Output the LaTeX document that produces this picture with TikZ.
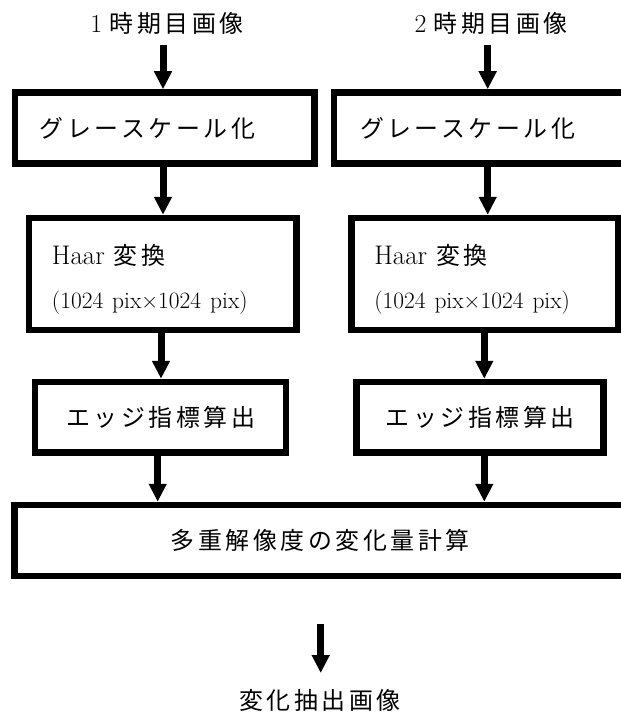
\documentclass[tikz,border=0pt]{standalone}
\usepackage{fontspec}
\newfontfamily\jp{Noto Sans CJK JP}[LetterSpace=15]
\usetikzlibrary{arrows.meta}
\tikzset{
  box/.style={draw, line width=6.5bp, inner sep=0pt, anchor=center},
  arr/.style={line width=7bp, -{Triangle[width=17bp,length=18bp]}},
  jtext/.style={font=\fontsize{24}{28}\selectfont},
  haar/.style={box, font=\fontsize{27}{44}\selectfont, minimum height=112bp, align=left, text height=21bp, text depth=40.4bp},
}
\begin{document}
\begin{tikzpicture}[x=1bp,y=-1bp]
\useasboundingbox (0,0) rectangle (621,717);
% top labels
\node[jtext] (l1) at (167,23) {{\fontsize{26}{28}\selectfont 1} {\jp 時期目画像}};
\node[jtext] (l2) at (491,23) {{\fontsize{26}{28}\selectfont 2} {\jp 時期目画像}};
% column x coordinates
\coordinate (La) at (163,45);
\coordinate (Lb) at (161,0);
\coordinate (Lc) at (157.7,0);
\coordinate (Ra) at (487.7,45);
\coordinate (Rb) at (484.3,0);
% gray boxes
\node[box, jtext, minimum width=299.7bp, minimum height=70.8bp, text width=249.7bp, align=left] (g1) at (164.85,127.9) {\jp グレースケール化};
\node[box, jtext, minimum width=292bp, minimum height=70.8bp, text width=240bp, align=left] (g2) at (480,127.9) {\jp グレースケール化};
% Haar boxes
\node[haar, minimum width=267.5bp, text width=221.5bp] (h1) at (162.75,274)
  {Haar {\fontsize{24}{44}\selectfont\jp 変換}\\{\fontsize{23.5}{44}\selectfont (1024 pix×1024 pix)}};
\node[haar, minimum width=266.7bp, text width=220.7bp] (h2) at (484.65,274)
  {Haar {\fontsize{24}{44}\selectfont\jp 変換}\\{\fontsize{23.5}{44}\selectfont (1024 pix×1024 pix)}};
% edge boxes
\node[box, jtext, minimum width=251bp, minimum height=70.7bp] (e1) at (160.5,417.35) {\jp エッジ指標算出};
\node[box, jtext, minimum width=246.8bp, minimum height=70.7bp] (e2) at (480.1,417.35) {\jp エッジ指標算出};
% big box
\node[box, jtext, minimum width=611.5bp, minimum height=71bp] (big) at (320.25,540.5) {\jp 多重解像度の変化量計算};
% output label
\node[jtext] (out) at (320,700) {\jp 変化抽出画像};
\coordinate (bt) at (320.7,623.7);
\coordinate (bb) at (320.7,673);
% arrows
\draw[arr] (La) -- (La |- g1.north);
\draw[arr] (Ra) -- (Ra |- g2.north);
\draw[arr] (g1.south -| La) -- (h1.north -| La);
\draw[arr] (g2.south -| Ra) -- (h2.north -| Ra);
\draw[arr] (h1.south -| Lb) -- (e1.north -| Lb);
\draw[arr] (h2.south -| Rb) -- (e2.north -| Rb);
\draw[arr] (e1.south -| Lc) -- (big.north -| Lc);
\draw[arr] (e2.south -| Rb) -- (big.north -| Rb);
\draw[arr] (bt) -- (bb);
\end{tikzpicture}
\end{document}
